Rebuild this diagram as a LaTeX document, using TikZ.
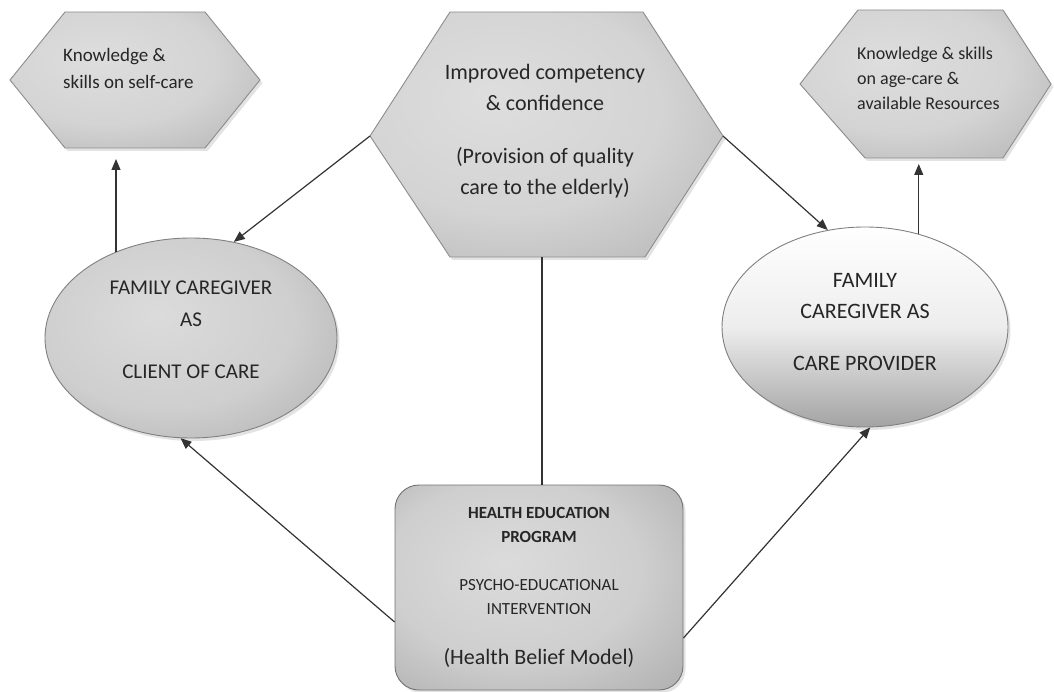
\documentclass[tikz,border=0pt]{standalone}
\usepackage{fontspec}
\setmainfont{Carlito}
\usetikzlibrary{arrows.meta,shapes.geometric,shadows,calc}
\pgfdeclareradialshading{softgray}{\pgfpoint{-8bp}{8bp}}{color(0bp)=(black!13); color(22bp)=(black!17); color(42bp)=(black!30); color(60bp)=(black!45); color(75bp)=(black!50)}
\pgfdeclareradialshading{softgrayb}{\pgfpoint{-6bp}{6bp}}{color(0bp)=(black!14); color(22bp)=(black!19); color(42bp)=(black!33); color(60bp)=(black!48); color(75bp)=(black!52)}
\begin{document}
\begin{tikzpicture}[x=1pt,y=-1pt,
  shad/.style={drop shadow={shadow xshift=2.5pt,shadow yshift=-3pt,fill=black!22}},
  hexshape/.style={draw=black!45, line width=0.9pt, shading=softgray, shad},
  txt/.style={text=black!85, inner sep=0pt},
  lellstyle/.style={ellipse, draw=black!50, line width=0.9pt, shading=softgrayb, shad,
    minimum width=292pt, minimum height=200pt, inner sep=0pt, text=black!85, align=center},
  rellstyle/.style={ellipse, draw=black!50, line width=0.9pt, top color=white, bottom color=black!36, middle color=black!7, shad,
    minimum width=286pt, minimum height=200pt, inner sep=0pt, text=black!85, align=center},
  progbox/.style={rectangle, rounded corners=24pt, draw=black!55, line width=0.9pt, shading=softgrayb, shad,
    minimum width=288pt, minimum height=205pt, inner sep=0pt, text=black!85, align=center},
  arr/.style={draw=black!80, line width=1.2pt, -{Triangle[length=11pt,width=9pt]}},
  plain/.style={draw=black!80, line width=1.2pt}
]
\useasboundingbox (0,0) rectangle (1054,692);

% left hexagon
\path[hexshape] (10,80) -- (65,12) -- (205,12) -- (260,80) -- (205,148) -- (65,148) -- cycle;
\coordinate (lhexS) at (117,148);
\node[txt, anchor=north west, align=left, font=\fontsize{19}{27}\selectfont] (lhext) at (63,48)
  {Knowledge \&\\skills on self-care};

% centre hexagon
\path[hexshape] (370,136) -- (450,12) -- (643,12) -- (723,136) -- (645,257) -- (450,257) -- cycle;
\coordinate (chexW) at (370,136);
\coordinate (chexE) at (723,136);
\coordinate (chexS) at (542,257);
\node[txt, align=center, font=\fontsize{22}{31}\selectfont] (chext) at (545,131)
  {Improved competency\\\& confidence\\[22pt](Provision of quality\\care to the elderly)};

% right hexagon
\path[hexshape] (800,84) -- (858,10) -- (1003,10) -- (1051,84) -- (1003,158) -- (865,158) -- cycle;
\coordinate (rhexS) at (918,158);
\node[txt, anchor=north west, align=left, font=\fontsize{18}{25}\selectfont] (rhext) at (857,47)
  {Knowledge \& skills\\on age-care \&\\available Resources};

% ellipses
\node[lellstyle, font=\fontsize{21}{32}\selectfont] (lell) at (191,338)
  {FAMILY CAREGIVER\\AS\\[20pt]CLIENT OF CARE\\[-16pt]\mbox{}};
\node[rellstyle, font=\fontsize{22}{31}\selectfont] (rell) at (865,327)
  {FAMILY\\CAREGIVER AS\\[21pt]CARE PROVIDER\\[-21pt]\mbox{}};

% program box
\node[progbox, font=\fontsize{17}{24}\selectfont] (prog) at (539,587.5)
  {\textbf{HEALTH EDUCATION}\\\textbf{PROGRAM}\\[24pt]PSYCHO-EDUCATIONAL\\INTERVENTION\\[26pt]{\fontsize{22}{24}\selectfont (Health Belief Model)}};

% connectors
\draw[arr, shorten >=11pt] (lell.131) -- (lell.131 |- lhexS);
\draw[arr, shorten >=6pt] (rell.60) -- (rell.60 |- rhexS);
\draw[arr] (chexW) -- (lell.66);
\draw[arr] (chexE) -- (rell.111);
\draw[plain] (chexS) -- (chexS |- prog.north);
\draw[arr] ([yshift=-34.5pt]prog.west) -- (lell.264);
\draw[arr] ([yshift=-50.5pt]prog.east) -- (rell.273);
\end{tikzpicture}
\end{document}
